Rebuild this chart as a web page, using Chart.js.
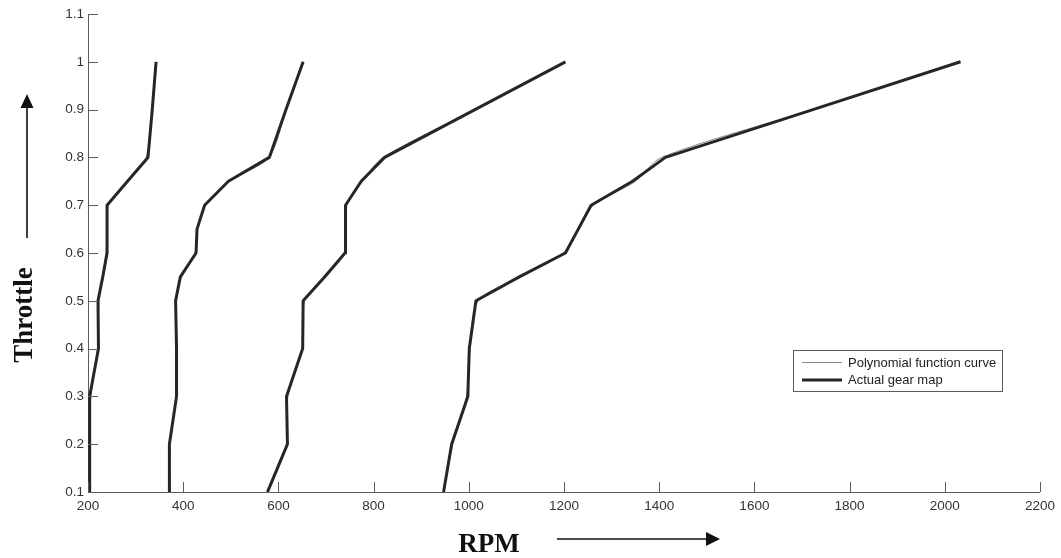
<!DOCTYPE html>
<html>
<head>
<meta charset="utf-8">
<title>Gear shift map</title>
<script src="https://cdn.jsdelivr.net/npm/chart.js@4.4.1/dist/chart.umd.min.js"></script>
<style>
  html, body { margin: 0; padding: 0; background: #fff; overflow: hidden; }
  canvas { display: block; }
</style>
</head>
<body>
<canvas id="gearMap" width="1061" height="558"></canvas>
<script>
// Throttle levels at which the shift points are defined
const throttle = [0.1, 0.2, 0.3, 0.4, 0.5, 0.55, 0.6, 0.65, 0.7, 0.75, 0.8, 0.9, 1.0];

// Actual gear map: shift RPM per throttle level, one list per shift line
const gear1Actual = [203, 203, 204, 222, 221, 231, 240, 240, 240, 283, 326, 335, 343];
const gear2Actual = [371, 371, 386, 386, 384, 394, 427, 429, 445, 495, 581, 616, 652];
const gear3Actual = [577, 619, 617, 651, 652, 697, 740, 741, 741, 774, 823, 1013, 1203];
const gear4Actual = [947, 964, 998, 1001, 1015, 1106, 1203, 1230, 1257, 1344, 1413, 1723, 2033];

// Polynomial function fit of each shift line
const gear1Poly = [203, 204, 206, 220, 223, 230, 238, 241, 243, 285, 322, 334, 343];
const gear2Poly = [372, 372, 385, 387, 386, 396, 425, 430, 447, 497, 580, 616, 652];
const gear3Poly = [579, 617, 620, 650, 655, 700, 738, 742, 744, 777, 820, 1013, 1203];
const gear4Poly = [948, 966, 995, 1003, 1020, 1110, 1198, 1232, 1262, 1350, 1405, 1723, 2033];

// Axis ticks
const xTicks = [200, 400, 600, 800, 1000, 1200, 1400, 1600, 1800, 2000, 2200];
const xTickLabels = ['200', '400', '600', '800', '1000', '1200', '1400', '1600', '1800', '2000', '2200'];
const yTicks = [0.1, 0.2, 0.3, 0.4, 0.5, 0.6, 0.7, 0.8, 0.9, 1.0, 1.1];
const yTickLabels = ['0.1', '0.2', '0.3', '0.4', '0.5', '0.6', '0.7', '0.8', '0.9', '1', '1.1'];

const legendLabels = ['Polynomial function curve', 'Actual gear map'];

const AXIS_COLOR = '#5c5c5c';
const ACTUAL_COLOR = '#262626';
const POLY_COLOR = '#8a8a8a';
const ACTUAL_WIDTH = 3;

function toPoints(rpm) {
  return rpm.map((r, i) => ({ x: r, y: throttle[i] }));
}

// The fitted curves sit underneath the thick actual map lines
function polySet(rpm) {
  return { label: legendLabels[0], data: toPoints(rpm), showLine: true,
    borderColor: POLY_COLOR, borderWidth: 1, pointRadius: 0, tension: 0.3, order: 2 };
}
function actualSet(rpm) {
  return { label: legendLabels[1], data: toPoints(rpm), showLine: true,
    borderColor: ACTUAL_COLOR, borderWidth: ACTUAL_WIDTH, pointRadius: 0, tension: 0, order: 1,
    borderJoinStyle: 'round', borderCapStyle: 'butt' };
}

// Inward tick marks, axis titles with arrows and the legend box
const decorations = {
  id: 'decorations',
  afterDraw(chart) {
    const { ctx, chartArea, scales } = chart;
    ctx.save();
    ctx.strokeStyle = AXIS_COLOR;
    ctx.lineWidth = 1;
    ctx.beginPath();
    scales.x.ticks.forEach(t => {
      const px = Math.round(scales.x.getPixelForValue(t.value)) + 0.5;
      ctx.moveTo(px, chartArea.bottom);
      ctx.lineTo(px, chartArea.bottom - 10);
    });
    scales.y.ticks.forEach(t => {
      const py = Math.round(scales.y.getPixelForValue(t.value)) + 0.5;
      ctx.moveTo(chartArea.left, py);
      ctx.lineTo(chartArea.left + 10, py);
    });
    ctx.stroke();

    // Axis titles
    ctx.fillStyle = '#111';
    ctx.font = 'bold 27px "Liberation Serif", "Times New Roman", serif';
    ctx.textAlign = 'center';
    ctx.textBaseline = 'alphabetic';
    ctx.fillText('RPM', 489, 552);
    ctx.save();
    ctx.translate(32, 315);
    ctx.rotate(-Math.PI / 2);
    ctx.fillText('Throttle', 0, 0);
    ctx.restore();

    // Arrows
    ctx.strokeStyle = '#111';
    ctx.fillStyle = '#111';
    ctx.lineWidth = 1.6;
    ctx.beginPath();
    ctx.moveTo(27, 238);
    ctx.lineTo(27, 106);
    ctx.moveTo(557, 539);
    ctx.lineTo(708, 539);
    ctx.stroke();
    ctx.beginPath();
    ctx.moveTo(27, 94);
    ctx.lineTo(33.5, 108);
    ctx.lineTo(20.5, 108);
    ctx.closePath();
    ctx.fill();
    ctx.beginPath();
    ctx.moveTo(720, 539);
    ctx.lineTo(706, 532);
    ctx.lineTo(706, 546);
    ctx.closePath();
    ctx.fill();

    // Legend
    const lx = 793.5, ly = 350.5, lw = 209, lh = 41;
    ctx.fillStyle = '#fff';
    ctx.fillRect(lx, ly, lw, lh);
    ctx.strokeStyle = AXIS_COLOR;
    ctx.lineWidth = 1;
    ctx.strokeRect(lx, ly, lw, lh);
    ctx.strokeStyle = POLY_COLOR;
    ctx.lineWidth = 1;
    ctx.beginPath();
    ctx.moveTo(802, 362.5);
    ctx.lineTo(842, 362.5);
    ctx.stroke();
    ctx.strokeStyle = ACTUAL_COLOR;
    ctx.lineWidth = ACTUAL_WIDTH;
    ctx.beginPath();
    ctx.moveTo(802, 380);
    ctx.lineTo(842, 380);
    ctx.stroke();
    ctx.fillStyle = '#222';
    ctx.font = '13px "Liberation Sans", Arial, sans-serif';
    ctx.textAlign = 'left';
    ctx.textBaseline = 'middle';
    ctx.fillText(legendLabels[0], 848, 363);
    ctx.fillText(legendLabels[1], 848, 380);
    ctx.restore();
  }
};

new Chart(document.getElementById('gearMap'), {
  type: 'scatter',
  data: {
    datasets: [
      actualSet(gear1Actual), actualSet(gear2Actual), actualSet(gear3Actual), actualSet(gear4Actual),
      polySet(gear1Poly), polySet(gear2Poly), polySet(gear3Poly), polySet(gear4Poly)
    ]
  },
  options: {
    responsive: false,
    animation: false,
    devicePixelRatio: 1,
    layout: { padding: { left: 0, right: 19, top: 14, bottom: 0 } },
    plugins: { legend: { display: false }, tooltip: { enabled: false } },
    scales: {
      x: {
        type: 'linear', min: 200, max: 2200,
        afterBuildTicks: s => { s.ticks = xTicks.map(v => ({ value: v })); },
        afterFit: s => { s.height = 66; },
        grid: { display: false, drawTicks: false },
        border: { display: true, color: AXIS_COLOR, width: 1 },
        ticks: { autoSkip: false, maxRotation: 0, padding: 6, color: '#333',
          font: { family: '"Liberation Sans", Arial, sans-serif', size: 13.5 },
          callback: (v, i) => xTickLabels[i] }
      },
      y: {
        type: 'linear', min: 0.1, max: 1.1,
        afterBuildTicks: s => { s.ticks = yTicks.map(v => ({ value: v })); },
        afterFit: s => { s.width = 88; },
        grid: { display: false, drawTicks: false },
        border: { display: true, color: AXIS_COLOR, width: 1 },
        ticks: { autoSkip: false, padding: 4, color: '#333',
          font: { family: '"Liberation Sans", Arial, sans-serif', size: 13.5 },
          callback: (v, i) => yTickLabels[i] }
      }
    }
  },
  plugins: [decorations]
});
</script>
</body>
</html>
